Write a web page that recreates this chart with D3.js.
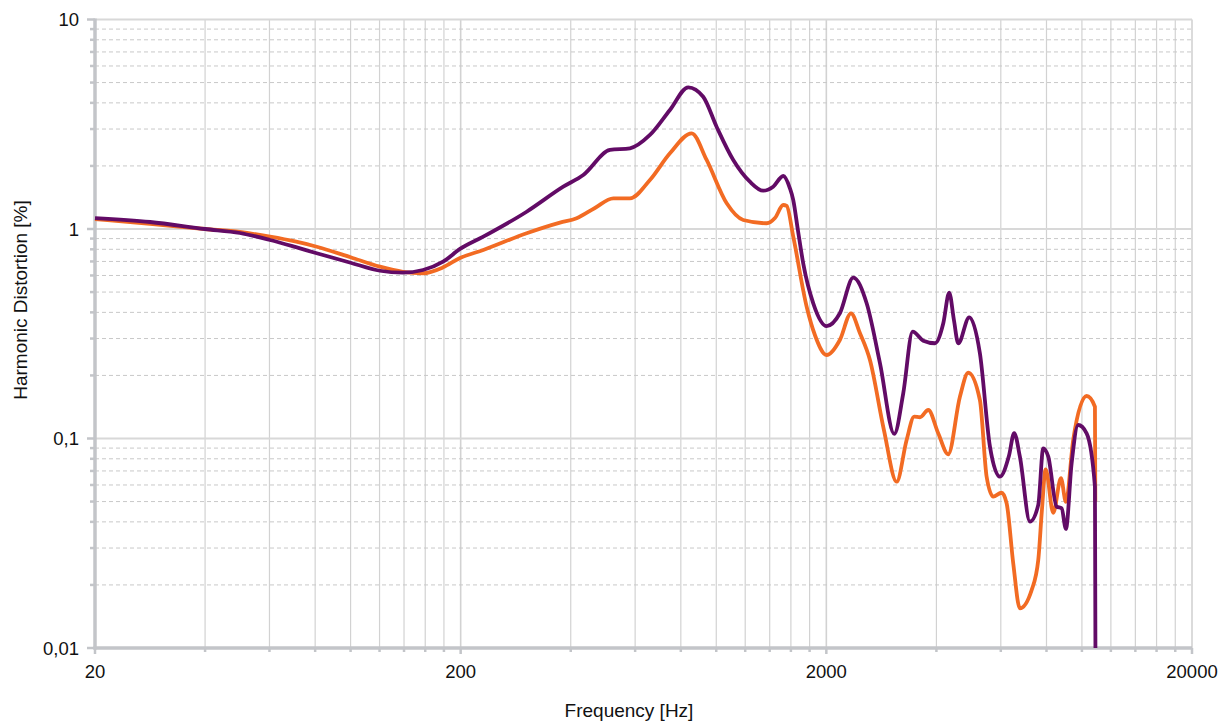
<!DOCTYPE html>
<html>
<head>
<meta charset="utf-8">
<script src="https://cdn.jsdelivr.net/npm/d3@7/dist/d3.min.js"></script>
<style>
  html, body { margin: 0; padding: 0; background: #fff; }
  svg { display: block; }
  text { font-family: "Liberation Sans", Arial, sans-serif; fill: #111; }
</style>
</head>
<body>
<svg id="chart" width="1226" height="722"></svg>
<script>
// ---------- DATA ----------
const xTickValues = [20, 200, 2000, 20000];
const xTickLabels = ["20", "200", "2000", "20000"];
const yTickValues = [0.01, 0.1, 1, 10];
const yTickLabels = ["0,01", "0,1", "1", "10"];
const xTitle = "Frequency [Hz]";
const yTitle = "Harmonic Distortion [%]";

// Series 1 (purple)
const purpleFreq = [20, 28.3, 40, 49.8, 60.2, 70.5, 80.8, 100, 120.3, 139, 157.8, 179, 199.2, 230.6, 303, 381.6, 432.8, 512, 580.8, 658.6, 747, 838.4, 921, 1002, 1113, 1236, 1344, 1431, 1525, 1591, 1624, 1672, 1729, 1842, 2004, 2178, 2370, 2578, 2804, 3068, 3246, 3444, 3682, 3964, 4177, 4336, 4466, 4590, 4918, 5260, 5604, 5966, 6314, 6528, 6766, 7210, 7596, 7838, 8090, 8528, 8802, 9040, 9372, 9770, 10300, 10854, 10888];
const purpleTHD = [1.128, 1.080, 1.0, 0.957, 0.886, 0.821, 0.766, 0.690, 0.632, 0.619, 0.637, 0.698, 0.803, 0.919, 1.209, 1.592, 1.811, 2.383, 2.428, 2.810, 3.698, 4.747, 4.280, 3.078, 2.135, 1.682, 1.523, 1.592, 1.791, 1.560, 1.375, 0.989, 0.686, 0.442, 0.344, 0.396, 0.586, 0.442, 0.2286, 0.1051, 0.1643, 0.3235, 0.293, 0.2848, 0.3548, 0.4966, 0.3677, 0.2848, 0.379, 0.255, 0.0914, 0.0657, 0.0825, 0.1062, 0.0819, 0.0401, 0.0482, 0.0898, 0.0819, 0.0473, 0.0464, 0.037, 0.0761, 0.116, 0.1059, 0.0589, 0.01];

// Series 2 (orange)
const orangeFreq = [20, 28.3, 40, 49.8, 60.2, 70.5, 80.8, 100, 120.3, 139, 157.8, 179, 199.2, 230.6, 303, 373.8, 415.2, 465.8, 523, 580.8, 658.6, 747, 856.6, 941.2, 1068, 1185, 1374, 1447, 1525, 1558, 1624, 1767, 1861, 2004, 2178, 2336, 2472, 2632, 2874, 3114, 3316, 3478, 3606, 3800, 4046, 4308, 4638, 4888, 5260, 5488, 5720, 6030, 6224, 6488, 6766, 7286, 7596, 7774, 7958, 8348, 8762, 9040, 9466, 10300, 10854, 10880];
const orangeTHD = [1.116, 1.057, 1.0, 0.968, 0.919, 0.872, 0.823, 0.733, 0.661, 0.625, 0.615, 0.656, 0.727, 0.794, 0.954, 1.072, 1.125, 1.26, 1.401, 1.401, 1.714, 2.298, 2.863, 2.135, 1.326, 1.104, 1.065, 1.128, 1.302, 1.288, 0.919, 0.4257, 0.312, 0.2503, 0.2953, 0.396, 0.3178, 0.2369, 0.1098, 0.0622, 0.0984, 0.1271, 0.1263, 0.1368, 0.1059, 0.0841, 0.1583, 0.206, 0.1527, 0.0657, 0.0528, 0.0551, 0.0491, 0.0254, 0.01547, 0.0189, 0.0263, 0.0456, 0.0713, 0.0442, 0.0646, 0.0499, 0.0984, 0.1595, 0.1418, 0.05];

// ---------- CHART ----------
const svg = d3.select("#chart");
const pLeft = 95, pRight = 1192, pTop = 19.5, pBottom = 648;

const x = d3.scaleLog().domain([20, 20000]).range([pLeft, pRight]);
const y = d3.scaleLog().domain([0.01, 10]).range([pBottom, pTop]);

// minor values
const xMinor = [];
[20, 200, 2000].forEach(b => { for (let k = 2; k <= 9; k++) xMinor.push(b * k); });
const yMinor = [];
[0.01, 0.1, 1].forEach(b => { for (let k = 2; k <= 9; k++) yMinor.push(b * k); });

const grid = svg.append("g");
grid.selectAll(".vmin").data(xMinor).join("line")
  .attr("x1", d => x(d)).attr("x2", d => x(d))
  .attr("y1", pTop).attr("y2", pBottom)
  .attr("stroke", "#d2d2d2").attr("stroke-width", 1.2);
grid.selectAll(".vmaj").data(xTickValues.slice(1)).join("line")
  .attr("x1", d => x(d)).attr("x2", d => x(d))
  .attr("y1", pTop).attr("y2", pBottom)
  .attr("stroke", "#d2d2d2").attr("stroke-width", 1.6);
grid.selectAll(".hmin").data(yMinor).join("line")
  .attr("x1", pLeft).attr("x2", pRight)
  .attr("y1", d => y(d)).attr("y2", d => y(d))
  .attr("stroke", "#c8c8c8").attr("stroke-width", 1)
  .attr("stroke-dasharray", "4,3");
grid.selectAll(".hmaj").data(yTickValues.slice(1)).join("line")
  .attr("x1", pLeft).attr("x2", pRight)
  .attr("y1", d => y(d)).attr("y2", d => y(d))
  .attr("stroke", "#d8d8d8").attr("stroke-width", 2);

const axisColor = "#c3c5c9";
const ax = svg.append("g");
ax.selectAll(".ytmin").data(yMinor).join("line")
  .attr("x1", pLeft - 5).attr("x2", pLeft)
  .attr("y1", d => y(d)).attr("y2", d => y(d))
  .attr("stroke", axisColor).attr("stroke-width", 2.5);
ax.selectAll(".ytmaj").data(yTickValues).join("line")
  .attr("x1", pLeft - 8).attr("x2", pLeft)
  .attr("y1", d => y(d)).attr("y2", d => y(d))
  .attr("stroke", axisColor).attr("stroke-width", 2.5);
ax.selectAll(".xtmin").data(xMinor).join("line")
  .attr("x1", d => x(d)).attr("x2", d => x(d))
  .attr("y1", pBottom).attr("y2", pBottom + 4)
  .attr("stroke", axisColor).attr("stroke-width", 2.5);
ax.selectAll(".xtmaj").data(xTickValues).join("line")
  .attr("x1", d => x(d)).attr("x2", d => x(d))
  .attr("y1", pBottom).attr("y2", pBottom + 6)
  .attr("stroke", axisColor).attr("stroke-width", 2.5);

const line = d3.line().x(d => x(d[0])).y(d => y(d[1])).curve(d3.curveMonotoneX);
const orangeData = orangeFreq.map((f, i) => [f, orangeTHD[i]]);
const purpleData = purpleFreq.map((f, i) => [f, purpleTHD[i]]);

svg.append("path").datum(orangeData).attr("d", line)
  .attr("fill", "none").attr("stroke", "#f26b23").attr("stroke-width", 3.8)
  .attr("stroke-linejoin", "round");
svg.append("path").datum(purpleData).attr("d", line)
  .attr("fill", "none").attr("stroke", "#620b66").attr("stroke-width", 3.8)
  .attr("stroke-linejoin", "round");

ax.append("line").attr("x1", pLeft).attr("x2", pLeft).attr("y1", pTop - 1).attr("y2", pBottom + 1.5)
  .attr("stroke", axisColor).attr("stroke-width", 3.5);
ax.append("line").attr("x1", pLeft - 1.5).attr("x2", pRight).attr("y1", pBottom).attr("y2", pBottom)
  .attr("stroke", axisColor).attr("stroke-width", 3.5);

svg.selectAll(".ylab").data(yTickValues).join("text")
  .attr("x", 79).attr("y", d => y(d) + 6.5)
  .attr("text-anchor", "end").attr("font-size", 18.5)
  .text((d, i) => yTickLabels[i]);
svg.selectAll(".xlab").data(xTickValues).join("text")
  .attr("x", d => x(d)).attr("y", 678)
  .attr("text-anchor", "middle").attr("font-size", 18.5)
  .text((d, i) => xTickLabels[i]);

svg.append("text").attr("x", 629).attr("y", 717)
  .attr("text-anchor", "middle").attr("font-size", 19).text(xTitle);
svg.append("text").attr("transform", "translate(27,300) rotate(-90)")
  .attr("text-anchor", "middle").attr("font-size", 19).text(yTitle);
</script>
</body>
</html>
